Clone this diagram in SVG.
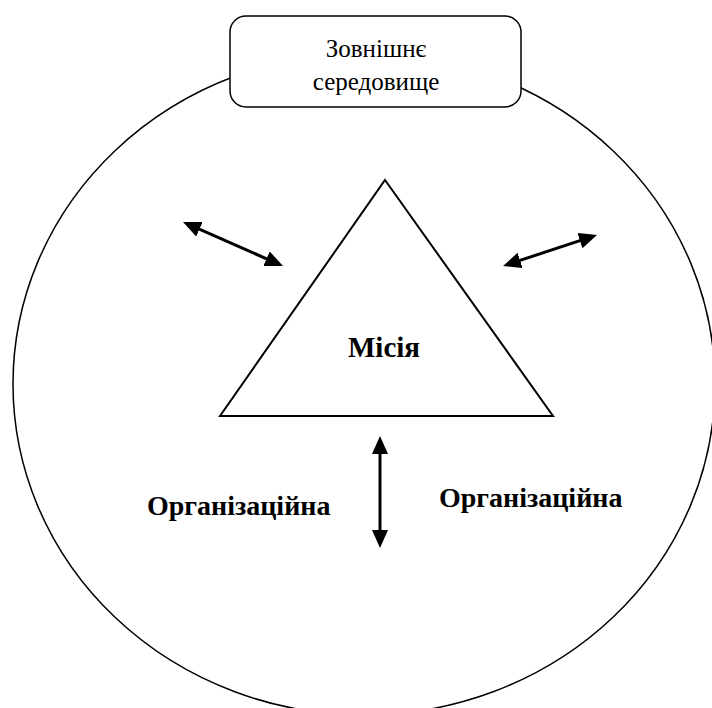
<svg xmlns="http://www.w3.org/2000/svg" width="712" height="708" viewBox="0 0 712 708">
<defs>
<marker id="ah" markerUnits="userSpaceOnUse" markerWidth="18" markerHeight="16" refX="12" refY="8" orient="auto-start-reverse" viewBox="0 0 18 16">
<path d="M0,0 L18,8 L0,16 Z" fill="#000"/>
</marker>
</defs>
<g id="environment-circle">
<ellipse cx="364" cy="384" rx="351" ry="331" fill="none" stroke="#000" stroke-width="1.5"/>
</g>
<g id="external-env">
<rect x="230" y="16" width="291" height="91" rx="16" ry="16" fill="#fff" stroke="#000" stroke-width="1.5"/>
<text x="376" y="57" font-family="Times New Roman, Liberation Serif, serif" font-size="25" text-anchor="middle">Зовнішнє</text>
<text x="376" y="90" font-family="Times New Roman, Liberation Serif, serif" font-size="25" text-anchor="middle">середовище</text>
</g>
<g id="mission">
<polygon points="385,180 553,416 220,416" fill="#fff" stroke="#000" stroke-width="2"/>
<text x="384" y="357" font-family="Times New Roman, Liberation Serif, serif" font-size="29" font-weight="bold" text-anchor="middle">Місія</text>
</g>
<g id="org-left">
<text x="147" y="515" font-family="Times New Roman, Liberation Serif, serif" font-size="28" font-weight="bold">Організаційна</text>
</g>
<g id="org-right">
<text x="439" y="507" font-family="Times New Roman, Liberation Serif, serif" font-size="28" font-weight="bold">Організаційна</text>
</g>
<g id="connectors" stroke="#000" stroke-width="3" fill="none" marker-start="url(#ah)" marker-end="url(#ah)">
<line x1="188.5" y1="224.4" x2="277.5" y2="263.6"/>
<line x1="508.7" y1="264.1" x2="591.3" y2="236.9"/>
<line x1="380" y1="442" x2="380" y2="542"/>
</g>
</svg>
